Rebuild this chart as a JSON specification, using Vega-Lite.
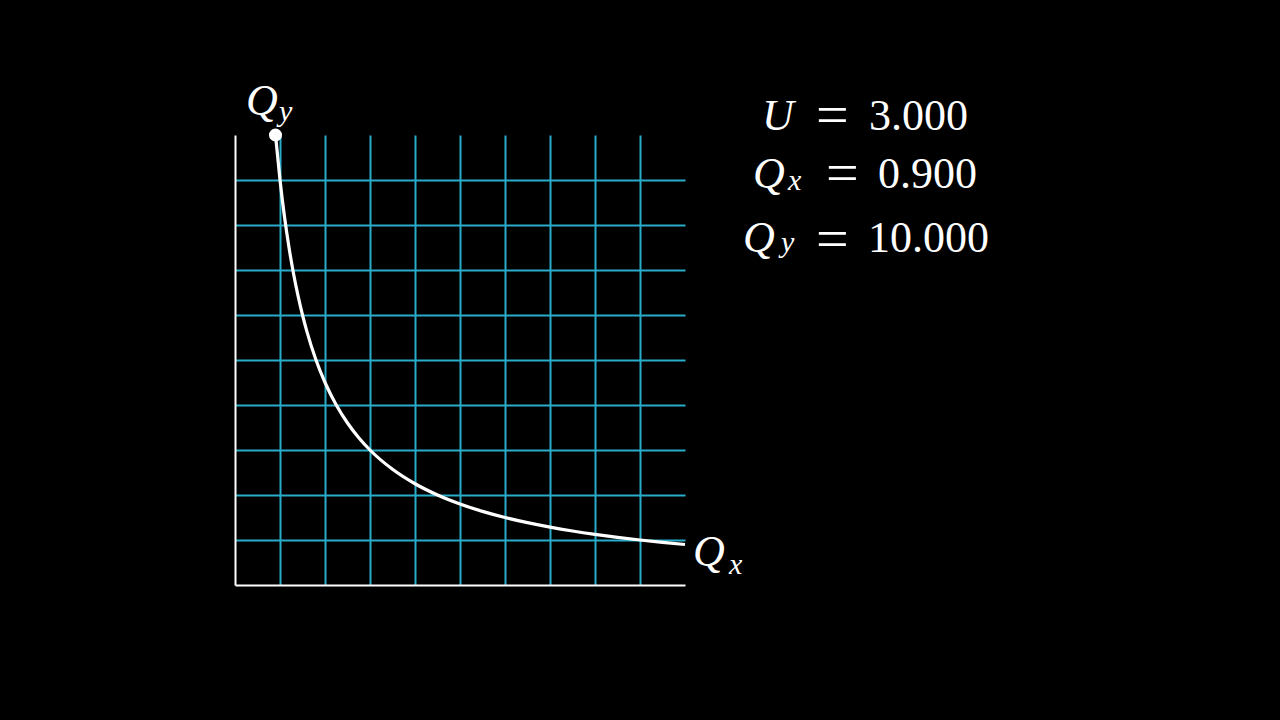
{
  "$schema": "https://vega.github.io/schema/vega-lite/v6.json",
  "width": 450,
  "height": 450,
  "autosize": {"type": "none"},
  "padding": {"left": 235, "top": 135, "right": 595, "bottom": 135},
  "background": "black",
  "config": {"view": {"stroke": null}},
  "datasets": {
    "curve": [
      {"Qx": 0.9, "Qy": 10}, {"Qx": 1.0, "Qy": 9}, {"Qx": 1.1, "Qy": 8.182}, {"Qx": 1.2, "Qy": 7.5},
      {"Qx": 1.3, "Qy": 6.923}, {"Qx": 1.4, "Qy": 6.429}, {"Qx": 1.5, "Qy": 6}, {"Qx": 1.6, "Qy": 5.625},
      {"Qx": 1.8, "Qy": 5}, {"Qx": 2.0, "Qy": 4.5}, {"Qx": 2.25, "Qy": 4}, {"Qx": 2.5, "Qy": 3.6},
      {"Qx": 2.75, "Qy": 3.273}, {"Qx": 3.0, "Qy": 3}, {"Qx": 3.5, "Qy": 2.571}, {"Qx": 4.0, "Qy": 2.25},
      {"Qx": 4.5, "Qy": 2}, {"Qx": 5.0, "Qy": 1.8}, {"Qx": 5.5, "Qy": 1.636}, {"Qx": 6.0, "Qy": 1.5},
      {"Qx": 6.5, "Qy": 1.385}, {"Qx": 7.0, "Qy": 1.286}, {"Qx": 7.5, "Qy": 1.2}, {"Qx": 8.0, "Qy": 1.125},
      {"Qx": 8.5, "Qy": 1.059}, {"Qx": 9.0, "Qy": 1}, {"Qx": 9.5, "Qy": 0.947}, {"Qx": 10.0, "Qy": 0.9}
    ],
    "dot": [{"Qx": 0.9, "Qy": 10}],
    "italicBig": [
      {"label": "Q", "px": 0.244, "py": 10.444},
      {"label": "Q", "px": 10.178, "py": 0.422},
      {"label": "U", "px": 11.711, "py": 10.111},
      {"label": "Q", "px": 11.511, "py": 8.822},
      {"label": "Q", "px": 11.289, "py": 7.4}
    ],
    "italicSmall": [
      {"label": "y", "px": 0.978, "py": 10.311},
      {"label": "x", "px": 10.978, "py": 0.244},
      {"label": "x", "px": 12.289, "py": 8.778},
      {"label": "y", "px": 12.133, "py": 7.4}
    ],
    "equals": [
      {"label": "=", "px": 12.911, "py": 10.016},
      {"label": "=", "px": 13.133, "py": 8.727},
      {"label": "=", "px": 12.911, "py": 7.27}
    ],
    "roman": [
      {"label": "3.000", "px": 14.089, "py": 10.111},
      {"label": "0.900", "px": 14.289, "py": 8.822},
      {"label": "10.000", "px": 14.067, "py": 7.4}
    ]
  },
  "layer": [
    {
      "data": {"name": "curve"},
      "mark": {"type": "line", "color": "white", "strokeWidth": 3.2, "interpolate": "monotone"},
      "encoding": {
        "x": {
          "field": "Qx", "type": "quantitative",
          "scale": {"domain": [0, 10], "nice": false, "zero": false},
          "axis": {"values": [1, 2, 3, 4, 5, 6, 7, 8, 9], "grid": true, "gridColor": "#29abca", "gridWidth": 2, "gridOpacity": 1,
                   "labels": false, "ticks": false, "domainColor": "white", "domainWidth": 2, "title": null}
        },
        "y": {
          "field": "Qy", "type": "quantitative",
          "scale": {"domain": [0, 10], "nice": false, "zero": false},
          "axis": {"values": [1, 2, 3, 4, 5, 6, 7, 8, 9], "grid": true, "gridColor": "#29abca", "gridWidth": 2, "gridOpacity": 1,
                   "labels": false, "ticks": false, "domainColor": "white", "domainWidth": 2, "title": null}
        }
      }
    },
    {
      "data": {"name": "dot"},
      "mark": {"type": "point", "filled": true, "color": "white", "opacity": 1, "size": 170, "shape": "circle"},
      "encoding": {
        "x": {"field": "Qx", "type": "quantitative"},
        "y": {"field": "Qy", "type": "quantitative"}
      }
    },
    {
      "data": {"name": "italicBig"},
      "mark": {"type": "text", "color": "white", "font": "Liberation Serif", "fontStyle": "italic", "fontSize": 44, "align": "left", "baseline": "alphabetic"},
      "encoding": {
        "x": {"field": "px", "type": "quantitative"},
        "y": {"field": "py", "type": "quantitative"},
        "text": {"field": "label"}
      }
    },
    {
      "data": {"name": "italicSmall"},
      "mark": {"type": "text", "color": "white", "font": "Liberation Serif", "fontStyle": "italic", "fontSize": 30, "align": "left", "baseline": "alphabetic"},
      "encoding": {
        "x": {"field": "px", "type": "quantitative"},
        "y": {"field": "py", "type": "quantitative"},
        "text": {"field": "label"}
      }
    },
    {
      "data": {"name": "equals"},
      "mark": {"type": "text", "color": "white", "font": "Liberation Serif", "fontSize": 58, "align": "left", "baseline": "alphabetic"},
      "encoding": {
        "x": {"field": "px", "type": "quantitative"},
        "y": {"field": "py", "type": "quantitative"},
        "text": {"field": "label"}
      }
    },
    {
      "data": {"name": "roman"},
      "mark": {"type": "text", "color": "white", "font": "Liberation Serif", "fontSize": 44, "align": "left", "baseline": "alphabetic"},
      "encoding": {
        "x": {"field": "px", "type": "quantitative"},
        "y": {"field": "py", "type": "quantitative"},
        "text": {"field": "label"}
      }
    }
  ]
}
